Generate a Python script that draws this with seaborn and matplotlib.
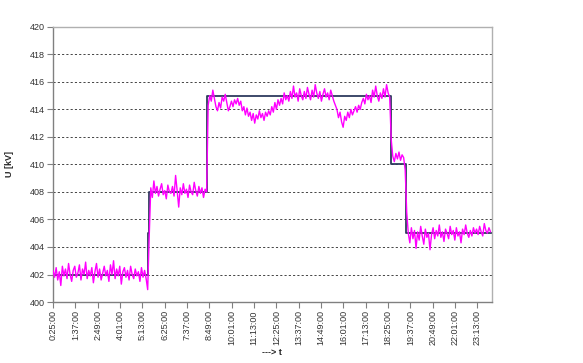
import numpy as np
import pandas as pd
import matplotlib
matplotlib.use("Agg")
import matplotlib.pyplot as plt
import seaborn as sns

# ---- data ----
# measured voltage, one value every 5 minutes from 0:25 to 23:55
u_seg1 = [402.3, 401.8, 402.5, 401.6, 402.2, 401.2, 402.6, 401.9, 402.4, 401.7,
          402.8, 402.0, 401.5, 402.3, 402.6, 401.8, 402.1, 402.7, 401.6, 402.4,
          402.0, 402.9, 401.7, 402.3, 401.9, 402.5, 401.4, 402.2, 402.8, 401.8,
          402.4, 401.6, 402.1, 402.6, 401.9, 402.3, 401.5, 402.7, 402.0, 403.0,
          401.7, 402.4, 401.9, 402.6, 401.3, 402.2, 402.5, 401.8, 402.3, 401.6,
          402.6, 402.0, 401.7, 402.4, 401.9, 402.2, 401.5, 402.5, 401.8, 402.3,
          401.7, 400.9]
u_ramp1 = [404.8]
u_seg2 = [408.3, 407.6, 408.8, 407.9, 408.4, 407.7, 408.2, 408.6, 407.8, 408.1,
          407.5, 408.5, 408.0, 407.9, 408.4, 407.7, 409.2, 408.1, 406.9, 408.3,
          407.8, 408.6, 407.9, 408.2, 407.6, 408.5, 408.0, 407.8, 408.7, 408.1,
          407.7, 408.4, 407.9, 408.3, 407.6, 408.2, 408.0]
u_seg3 = [414.3, 415.0, 414.6, 415.4,
          414.8, 414.2, 413.9,
          414.5, 414.1, 414.9, 414.6, 415.1,
          414.5, 413.9, 414.2,
          414.6, 414.2, 414.7, 414.4, 414.8,
          414.3, 414.6, 413.9, 414.2, 413.6, 414.1, 413.5,
          413.8, 413.2, 413.7, 413.0, 413.6, 413.3, 413.9, 413.4, 413.7, 413.2, 413.8, 413.5,
          413.9, 413.6, 414.2, 413.8, 414.5, 414.0, 414.7, 414.3,
          414.8, 414.4, 415.2, 414.7, 415.0, 414.6, 415.3, 414.8,
          415.7, 414.9, 415.2, 414.6, 415.5, 415.0, 414.7, 415.3, 414.8, 415.6,
          415.1, 414.7, 415.4, 414.9, 415.8, 415.2, 414.8, 415.3, 414.6, 415.1,
          415.5, 414.9, 415.2, 414.7, 415.4, 415.0, 414.6,
          414.3, 414.0, 413.4, 413.8, 413.1, 412.7,
          413.5, 413.2, 413.8, 413.4, 414.0, 413.6, 413.9, 414.2, 413.8, 414.3, 414.0, 414.5,
          414.8, 414.4, 415.1, 414.7, 415.0, 414.5, 415.4, 414.9, 415.7, 415.0,
          414.6, 415.2, 414.8, 415.5, 414.9, 415.8, 415.2, 414.9]
u_seg4 = [411.8, 410.6, 410.2, 410.8, 410.4, 410.9, 410.3, 410.7, 410.5, 409.6, 406.5]
u_seg5 = [405.0, 404.3, 405.4, 404.6, 405.2, 403.9, 405.1, 404.5, 405.5, 404.8,
          404.2, 405.3, 404.7, 405.0, 403.8, 404.9, 405.4, 404.6, 405.2, 404.8,
          405.6, 404.7, 405.1, 404.4, 405.3, 405.0, 404.6, 405.5, 404.9, 405.2,
          404.5, 405.4, 404.8, 405.1, 404.3, 405.3, 404.9, 405.6, 405.0, 404.7,
          405.2, 404.8, 405.4, 405.0, 405.3, 404.9, 405.5, 405.1, 404.8, 405.7,
          405.2, 405.0, 405.4, 405.1]
u_meas = u_seg1 + u_ramp1 + u_seg2 + u_seg3 + u_seg4 + u_seg5
t_meas = list(range(25, 25 + 5 * len(u_meas), 5))  # minutes after midnight

# set-point (step) series
step_t = [25, 330, 335, 521, 1115, 1163, 1440]
step_u = [402, 405, 408, 415, 410, 405, 405]

tick_minutes = [25 + 72 * k for k in range(20)]
tick_labels = [f"{m // 60}:{m % 60:02d}:00" for m in tick_minutes]

df_meas = pd.DataFrame({"t": t_meas, "u": u_meas})
df_step = pd.DataFrame({"t": step_t, "u": step_u})

# ---- plot ----
sns.set_theme(style="white")
plt.rcParams["font.family"] = ["Liberation Sans", "DejaVu Sans"]

fig = plt.figure(figsize=(5.83, 3.63), dpi=100)
ax = fig.add_axes([0.091, 0.168, 0.753, 0.758])

sns.lineplot(data=df_step, x="t", y="u", ax=ax, color="#2E3A5E", lw=1.3,
             drawstyle="steps-post", estimator=None, zorder=2)
sns.lineplot(data=df_meas, x="t", y="u", ax=ax, color="#FF00FF", lw=1.0,
             estimator=None, zorder=3)

ax.set_xlim(25, 1440)
ax.set_ylim(400, 420)
ax.set_yticks(range(400, 421, 2))
ax.set_xticks(tick_minutes)
ax.set_xticklabels(tick_labels, rotation=90)

for y in range(402, 420, 2):
    ax.axhline(y, color="#444444", lw=0.7, ls=(0, (2.2, 2.2)), zorder=1)

for side in ["left", "bottom"]:
    ax.spines[side].set_color("#808080")
    ax.spines[side].set_linewidth(1.0)
for side in ["top", "right"]:
    ax.spines[side].set_color("#B0B0B0")
    ax.spines[side].set_linewidth(1.0)

ax.tick_params(axis="both", which="major", direction="out", length=4, width=0.8,
               color="#808080", labelsize=6.5, labelcolor="#333333", pad=2,
               left=True, bottom=True)

ax.set_xlabel("")
ax.set_ylabel("")
fig.text(0.467, 0.03, "---> t", fontsize=6.5, fontweight="bold",
         ha="center", va="center")
fig.text(0.016, 0.548, "U [kV]", fontsize=6.5, fontweight="bold",
         ha="center", va="center", rotation=90)

fig.savefig("out.png", dpi=100)
